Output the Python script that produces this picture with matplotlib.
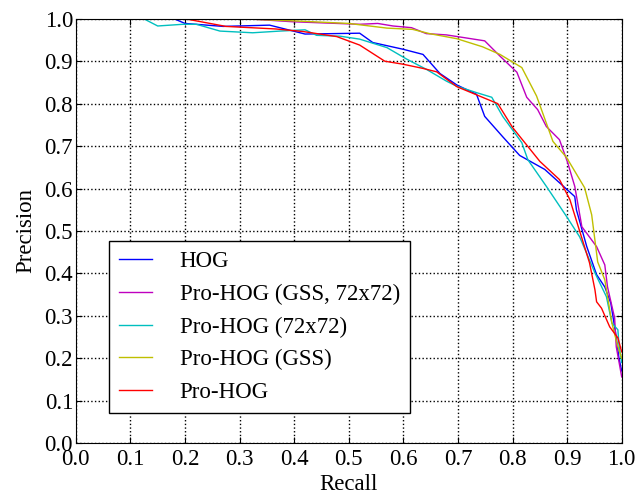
import numpy as np
import matplotlib
matplotlib.use("Agg")
import matplotlib.pyplot as plt

plt.rcParams['font.family'] = ['Liberation Serif', 'DejaVu Serif']

# precision-recall curves
hog_r = [0.0, 0.18, 0.20, 0.27, 0.355, 0.42, 0.52, 0.544, 0.60, 0.636, 0.667, 0.698,
         0.734, 0.749, 0.782, 0.813, 0.859, 0.896, 0.914, 0.917, 0.936, 0.954, 0.969,
         0.98, 0.99, 0.995, 1.0]
hog_p = [1.0, 1.0, 0.989, 0.982, 0.985, 0.964, 0.966, 0.944, 0.928, 0.916, 0.871, 0.844,
         0.822, 0.770, 0.722, 0.678, 0.645, 0.602, 0.581, 0.550, 0.463, 0.397, 0.368,
         0.33, 0.25, 0.20, 0.17]

gss72_r = [0.0, 0.324, 0.397, 0.52, 0.553, 0.581, 0.615, 0.642, 0.679, 0.749, 0.777,
           0.808, 0.826, 0.846, 0.862, 0.886, 0.901, 0.914, 0.927, 0.954, 0.969, 0.974,
           0.987, 0.99, 1.0]
gss72_p = [1.0, 0.999, 0.993, 0.987, 0.989, 0.983, 0.979, 0.965, 0.962, 0.948, 0.912,
           0.874, 0.815, 0.786, 0.746, 0.715, 0.661, 0.605, 0.510, 0.463, 0.420, 0.368,
           0.295, 0.227, 0.156]

p72_r = [0.0, 0.126, 0.15, 0.196, 0.221, 0.264, 0.324, 0.374, 0.42, 0.441, 0.484, 0.52,
         0.57, 0.606, 0.642, 0.679, 0.698, 0.734, 0.762, 0.782, 0.817, 0.828, 0.862,
         0.899, 0.923, 0.951, 0.972, 0.982, 0.993, 0.995, 1.0]
p72_p = [1.0, 0.999, 0.983, 0.987, 0.987, 0.971, 0.967, 0.971, 0.974, 0.961, 0.959, 0.952,
         0.932, 0.905, 0.881, 0.853, 0.841, 0.826, 0.815, 0.770, 0.708, 0.668, 0.605,
         0.534, 0.486, 0.401, 0.345, 0.283, 0.267, 0.231, 0.19]

gss_r = [0.0, 0.30, 0.40, 0.50, 0.57, 0.617, 0.648, 0.698, 0.745, 0.777, 0.817, 0.844,
         0.874, 0.899, 0.932, 0.945, 0.956, 0.969, 0.982, 0.993, 1.0]
gss_p = [1.0, 1.0, 0.995, 0.989, 0.978, 0.975, 0.965, 0.953, 0.934, 0.916, 0.885, 0.818,
         0.711, 0.673, 0.602, 0.538, 0.427, 0.385, 0.283, 0.227, 0.20]

pro_r = [0.0, 0.20, 0.275, 0.366, 0.416, 0.478, 0.52, 0.566, 0.599, 0.636, 0.661, 0.698,
         0.773, 0.80, 0.85, 0.886, 0.905, 0.941, 0.951, 0.954, 0.963, 0.978, 0.993, 1.0]
pro_p = [1.0, 1.0, 0.982, 0.976, 0.970, 0.958, 0.938, 0.900, 0.893, 0.883, 0.875, 0.840,
         0.800, 0.744, 0.664, 0.621, 0.574, 0.425, 0.361, 0.333, 0.318, 0.274, 0.248, 0.215]

ticks = np.arange(0, 1.01, 0.1)
fs = 16.5

fig = plt.figure(figsize=(6.37, 4.94), dpi=100)
ax = fig.add_axes([0.119, 0.103, 0.857, 0.859])

ax.plot(hog_r, hog_p, color='b', lw=1.0, label='HOG')
ax.plot(gss72_r, gss72_p, color='m', lw=1.0, label='Pro-HOG (GSS, 72x72)')
ax.plot(p72_r, p72_p, color='c', lw=1.0, label='Pro-HOG (72x72)')
ax.plot(gss_r, gss_p, color='y', lw=1.0, label='Pro-HOG (GSS)')
ax.plot(pro_r, pro_p, color='r', lw=1.0, label='Pro-HOG')

ax.set_xlim(0, 1)
ax.set_ylim(0, 1)
ax.set_xticks(ticks)
ax.set_yticks(ticks)
ax.set_xticklabels([f'{v:.1f}' for v in ticks])
ax.set_yticklabels([f'{v:.1f}' for v in ticks])
ax.tick_params(direction='in', top=True, right=True, labelsize=fs, length=4)
ax.tick_params(axis='x', pad=4)
ax.tick_params(axis='y', pad=2)
ax.grid(True, color='k', linestyle=':', linewidth=1.0)
ax.set_xlabel('Recall', fontsize=fs, labelpad=3)
ax.set_ylabel('Precision', fontsize=fs, labelpad=6)

leg = ax.legend(loc='lower left', bbox_to_anchor=(0.06, 0.071), borderaxespad=0,
                fontsize=fs, fancybox=False, framealpha=1, edgecolor='k',
                handlelength=1.45, handletextpad=1.2, borderpad=0.45, labelspacing=0.5)
leg.get_frame().set_linewidth(1.0)

fig.savefig('out.png', dpi=100)
